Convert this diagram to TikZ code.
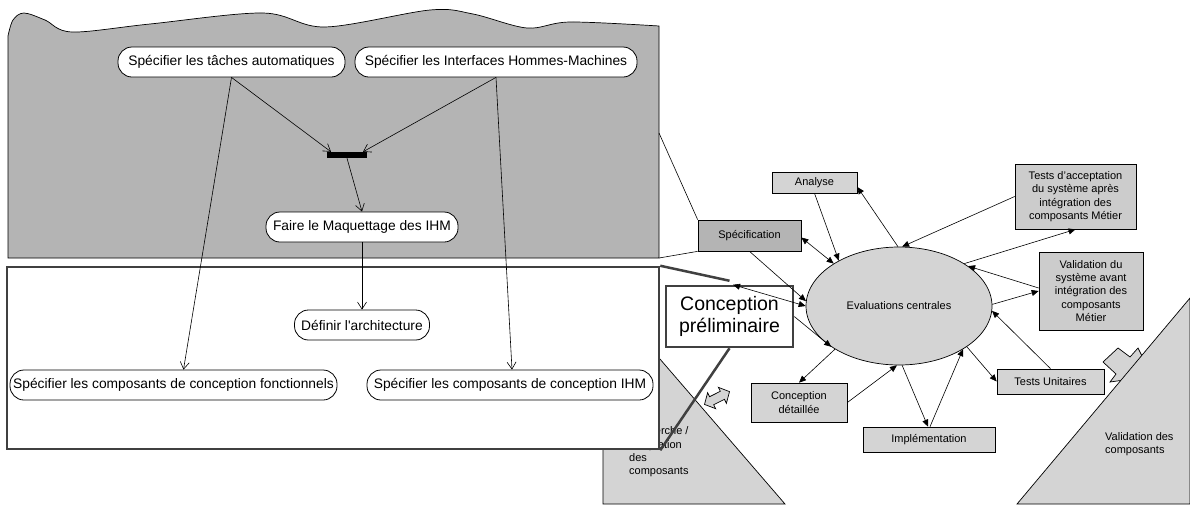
\documentclass[tikz,border=0pt]{standalone}
\usepackage{fontspec}
\setmainfont{Liberation Sans}
\usetikzlibrary{arrows.meta,shapes.geometric,calc}
\definecolor{regiongray}{HTML}{B4B4B4}
\definecolor{lightg}{HTML}{D4D4D4}
\definecolor{midg}{HTML}{CCCCCC}
\definecolor{frameC}{HTML}{404040}
\begin{document}
\begin{tikzpicture}[x=1pt,y=-1pt,
  act/.style={draw=black,line width=0.8pt,fill=white,rounded corners=14pt,minimum height=30pt,inner xsep=2pt,inner ysep=0pt,font=\fontsize{13.8}{16}\selectfont},
  flow/.style={line width=0.6pt,-{Straight Barb[length=7pt,width=9pt]}},
  box/.style={draw=black,line width=0.7pt,fill=lightg,font=\fontsize{11}{13.3}\selectfont,align=center,inner sep=0pt},
  link/.style={line width=0.6pt,-{Triangle[length=7pt,width=6pt]}},
  dlink/.style={line width=0.6pt,{Triangle[length=7pt,width=6pt]}-{Triangle[length=7pt,width=6pt]}},
  callout/.style={draw=frameC,line width=2.5pt},
  thinline/.style={draw=black,line width=0.6pt},
  side/.style={font=\fontsize{11}{13.3}\selectfont,align=left,inner sep=0pt,anchor=west},
  shapeline/.style={draw=black,line width=0.7pt,fill=lightg}
]
\useasboundingbox (0,0) rectangle (1190,504);
\fill[white] (0,0) rectangle (1190,504);

% left triangle (Recherche / Adaptation)
\draw[shapeline] (603,293) -- (603,504) -- (785,504) -- cycle;
\node[side] (rech) at (629,452) {Recherche /\\Adaptation\\des\\composants};

% left double block arrow
\draw[shapeline] (729.5,391.6) -- (726.4,403.3) -- (724.4,399.3) -- (713.7,404.7) -- (715.7,408.7) -- (704.5,404.4) -- (707.6,392.7) -- (709.6,396.7) -- (720.3,391.3) -- (718.3,387.3) -- cycle;

% gray wavy region
\draw[fill=regiongray,line width=0.7pt] (659,258) -- (8,258) -- (8,36)
  -- plot[smooth,tension=0.55] coordinates {(8,36) (13,20) (24,13) (45,20) (72,32) (150,24) (263,13) (325,27) (430,10) (473,14) (527,28) (570,22) (659,26)} -- cycle;
\coordinate (g1) at (659,133);
\coordinate (g2) at (659,258);

% white frame
\node[draw=frameC,line width=2.5pt,fill=white,minimum width=652pt,minimum height=182pt,inner sep=0pt] (fr) at (333,358) {};

% activity nodes
\node[act,minimum width=227pt] (t1) at (231.5,62) {Spécifier les tâches automatiques};
\node[act,minimum width=282pt] (t2) at (496,62) {Spécifier les Interfaces Hommes-Machines};
\node[fill=black,minimum width=40pt,minimum height=6pt,inner sep=0pt] (bar) at (347,155) {};
\node[act,minimum width=192pt] (t3) at (362,227) {Faire le Maquettage des IHM};
\node[act,minimum width=135pt] (t4) at (362,325) {Définir l\textquotesingle architecture};
\node[act,minimum width=327pt] (t5) at (173.5,385) {Spécifier les composants de conception fonctionnels};
\node[act,minimum width=286pt] (t6) at (510,385) {Spécifier les composants de conception IHM};

\draw[flow] (t1.south) -- ($(bar.north)+(-16,0)$);
\draw[flow] (t2.south) -- ($(bar.north)+(16,0)$);
\draw[flow] (bar.south) -- (t3.north);
\draw[flow] (t3.south) -- (t4.north);
\draw[flow] (t1.south) -- ($(t5.north)+(10,0)$);
\draw[flow] (t2.south) -- ($(t6.north)+(2,0)$);

% right part nodes
\node[box,fill=regiongray,minimum width=103pt,minimum height=31pt] (spec) at (749.5,235.5) {Spécification};
\node[box,minimum width=85pt,minimum height=21pt] (ana) at (814.5,182.5) {Analyse};
\node[ellipse,draw=black,line width=0.7pt,fill=lightg,minimum width=186pt,minimum height=118pt,inner sep=0pt,font=\fontsize{11}{13.3}\selectfont] (ell) at (899,306) {Evaluations centrales};
\node[draw=frameC,line width=2.5pt,fill=white,minimum width=127pt,minimum height=61pt,inner sep=0pt,align=center,font=\fontsize{19.5}{22}\selectfont] (cp) at (729.5,316.5) {Conception\\préliminaire};
\node[box,minimum width=96pt,minimum height=39pt] (cd) at (799,402.5) {Conception\\détaillée};
\node[box,minimum width=132pt,minimum height=25pt] (imp) at (929,439.5) {Implémentation};
\node[box,minimum width=107pt,minimum height=25pt] (tu) at (1050.5,381.5) {Tests Unitaires};
\node[box,fill=midg,minimum width=121pt,minimum height=65pt] (ta) at (1075.5,196.5) {Tests d’acceptation\\du système après\\intégration des\\composants Métier};
\node[box,fill=midg,minimum width=104pt,minimum height=78pt] (vs) at (1091,291) {Validation du\\système avant\\intégration des\\composants\\Métier};

% callout lines
\draw[thinline] (g1) -- (spec.north west);
\draw[thinline] (g2) -- (spec.south west);
\draw[callout] (fr.north east) -- ($(cp.north)+(0,-4)$);
\draw[callout] (fr.south east) -- (cp.south);

% links
\draw[link] (ana.south) -- (ell.143);
\draw[link] (ell.91) -- ($(ana.east)+(0,4.5)$);
\draw[dlink] ($(spec.east)+(0,2)$) -- (ell.147);
\draw[link] (spec.south) -- (ell.177);
\draw[dlink] ($(cp.north)+(3.5,0)$) -- (ell.180);
\draw[link] (cp.east) -- (ell.211);
\draw[link] (ell.214) -- (cd.north);
\draw[link] (cd.east) -- (ell.268);
\draw[link] (ell.273) -- ($(imp.north)+(-1,0)$);
\draw[link] ($(imp.north)+(1,0)$) -- (ell.326);
\draw[link] (ell.329) -- (tu.west);
\draw[link] (tu.north) -- (ell.357);
\draw[link] (ell.1) -- (vs.west);
\draw[link] ($(vs.west)+(0,-3)$) -- (ell.30);
\draw[link] (ell.33) -- (ta.south);
\draw[link] (ta.west) -- (ell.87);

% right small block arrow (head hidden by triangle)
\draw[shapeline] (1103,362) -- (1118,348) -- (1130,357) -- (1138,348) -- (1152,376) -- (1110,382) -- (1116,374) -- cycle;

% right triangle
\draw[shapeline] (1017,504) -- (1190,298) -- (1190,504) -- cycle;
\node[side] (valc) at (1105,444) {Validation des\\composants};
\end{tikzpicture}
\end{document}
